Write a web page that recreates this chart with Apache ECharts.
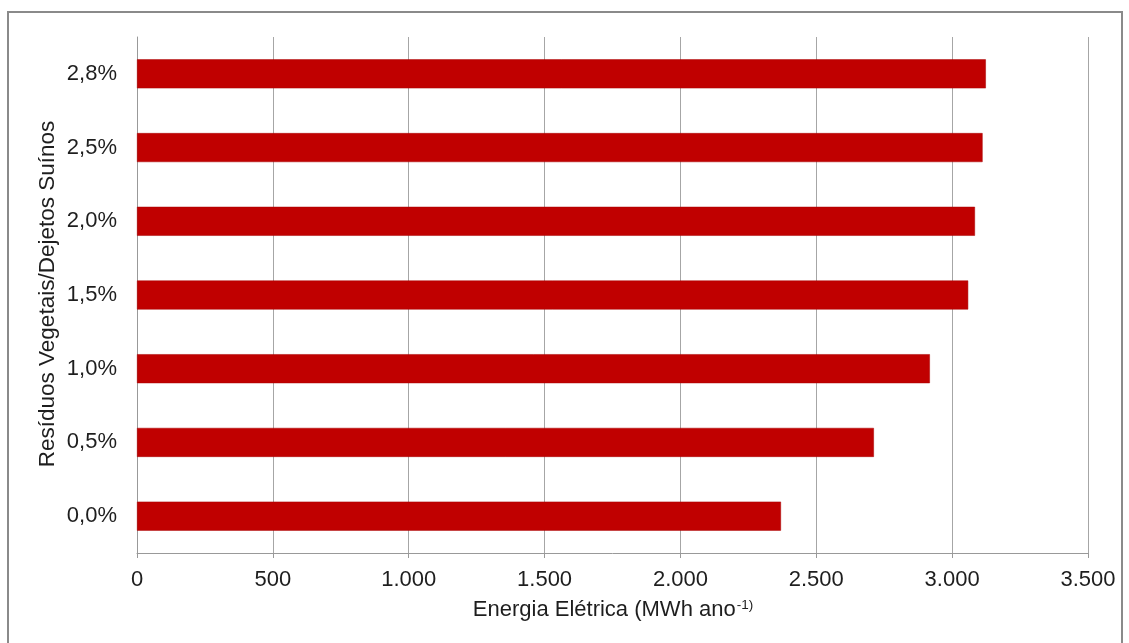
<!DOCTYPE html>
<html>
<head>
<meta charset="utf-8">
<script src="https://cdn.jsdelivr.net/npm/echarts@6/dist/echarts.min.js"></script>
<style>
html,body{margin:0;padding:0;background:#fff;}
#chart{width:1129px;height:643px;}
</style>
</head>
<body>
<div id="chart"></div>
<script>
const categories = ['0,0%', '0,5%', '1,0%', '1,5%', '2,0%', '2,5%', '2,8%'];
const energia = [2370, 2712, 2918, 3059, 3084, 3112, 3124];
const xTicks = { min: 0, max: 3500, interval: 500 };
const yTitle = 'Resíduos Vegetais/Dejetos Suínos';
const xTitleMain = 'Energia Elétrica (MWh ano';
const xTitleSup = '-1)';

const FONT = 'Liberation Sans, Arial, sans-serif';
const chart = echarts.init(document.getElementById('chart'), null, { renderer: 'canvas' });
const fmt = v => v >= 1000 ? Math.floor(v / 1000) + '.' + String(v % 1000).padStart(3, '0') : String(v);

chart.setOption({
  animation: false,
  backgroundColor: '#fff',
  textStyle: { fontFamily: FONT },
  graphic: [{
    type: 'rect',
    shape: { x: 8, y: 12, width: 1114, height: 640 },
    style: { fill: 'none', stroke: '#8a8a8a', lineWidth: 2 },
    silent: true, z: -1
  }, {
    type: 'text',
    x: 613, y: 610,
    style: {
      text: '{n|' + xTitleMain + '}{s|' + xTitleSup + '}',
      align: 'center', verticalAlign: 'middle',
      rich: {
        n: { fontSize: 22, fontFamily: FONT, fill: '#1e1e1e' },
        s: { fontSize: 13.5, fontFamily: FONT, fill: '#1e1e1e', verticalAlign: 'top', padding: [0, 0, 9, 1] }
      }
    }
  }, {
    type: 'text',
    x: 48, y: 294,
    rotation: Math.PI / 2,
    style: {
      text: yTitle, fontSize: 22.5, fontFamily: FONT, fill: '#1e1e1e',
      align: 'center', verticalAlign: 'middle'
    }
  }],
  grid: { left: 137, right: 41, top: 37, bottom: 90, containLabel: false },
  xAxis: {
    type: 'value',
    min: xTicks.min, max: xTicks.max, interval: xTicks.interval,
    axisLine: { show: true, lineStyle: { color: '#999', width: 1 } },
    axisTick: { show: true, length: 5, lineStyle: { color: '#999' } },
    axisLabel: { formatter: fmt, fontSize: 22, color: '#1e1e1e', margin: 16 },
    splitLine: { show: true, lineStyle: { color: '#a6a6a6', width: 1 } }
  },
  yAxis: {
    type: 'category',
    data: categories,
    axisLine: { show: true, lineStyle: { color: '#999', width: 1 } },
    axisTick: { show: false },
    axisLabel: { fontSize: 22, color: '#1e1e1e', margin: 20 },
    splitLine: { show: false }
  },
  series: [{
    type: 'bar',
    data: energia,
    barWidth: 29,
    itemStyle: { color: '#c00000', borderColor: '#a80000', borderWidth: 0.5 }
  }]
});
</script>
</body>
</html>
